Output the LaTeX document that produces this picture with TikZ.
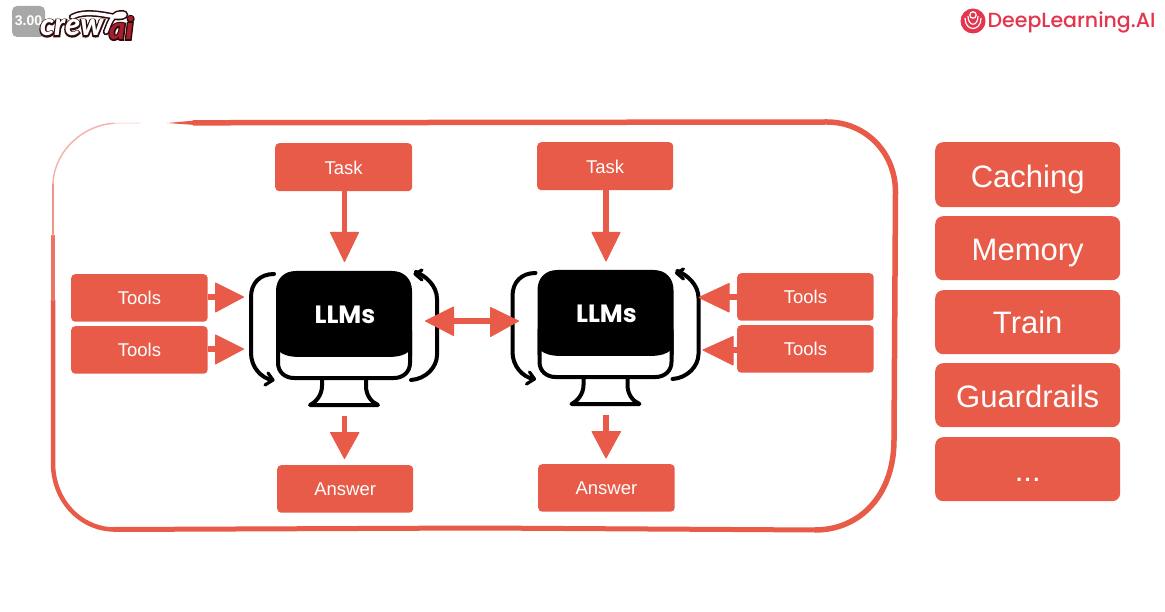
\documentclass[tikz,border=0pt]{standalone}
\usepackage{fontspec}
\setmainfont{Liberation Sans}
\newfontfamily\poppm{Poppins Medium}
\newfontfamily\poppb{Poppins Bold}
\newfontfamily\latoi{Lato Black Italic}
\newfontfamily\latoo[RawFeature={embolden=9}]{Lato Black Italic}
\definecolor{cor}{HTML}{E85B48}
\definecolor{dlai}{HTML}{E4354E}
\definecolor{crewd}{HTML}{2E0A0C}
\definecolor{crewr}{HTML}{A81E2D}
\tikzset{
 x=1pt,y=-1pt,
 smallbox/.style={fill=cor,rounded corners=4pt,text=white,font=\fontsize{18.5}{19}\selectfont,inner sep=0pt},
 bigbox/.style={fill=cor,rounded corners=8pt,text=white,font=\fontsize{31}{32}\selectfont,inner sep=0pt,minimum width=185pt},
 shaft/.style={draw=cor,line width=5.5pt},
 headf/.style={fill=cor,draw=cor,line width=1pt,line join=round},
 ink/.style={draw=black,line width=4pt,line cap=round,line join=round},
 tip/.style={draw=black,line width=3.2pt,line cap=round,line join=round},
}
\newcommand{\mkbox}[6]{\node[smallbox,minimum width=#4 pt-#2 pt,minimum height=#5 pt-#3 pt,anchor=north west] (#1) at (#2,#3) {\raisebox{-7pt}[0pt][0pt]{#6}};}
\newcommand{\monitor}[3]{%
 \begin{scope}[shift={(#1,#2)}]
  \draw[ink,fill=white] (46,107) -- (46,115) .. controls (46,124) and (40,131) .. (34,134) -- (102,134) .. controls (95,131) and (90,124) .. (90,115) -- (90,107);
  \draw[ink,fill=white] (2,60) -- (2,92) .. controls (2,101) and (9,107) .. (18,107) -- (118,107) .. controls (127,107) and (134,101) .. (134,92) -- (134,60);
  \fill[black] (0,20) .. controls (0,8) and (8,0) .. (20,0) -- (116,0) .. controls (128,0) and (136,8) .. (136,20) -- (136,85) -- (132,81) .. controls (130,83) and (124,86) .. (112,86) -- (24,86) .. controls (12,86) and (6,83) .. (4,81) -- (0,85) -- cycle;
  \node[text=white,font=\poppb\fontsize{25}{25}\selectfont,inner sep=0pt] (#3) at (69,44) {LLMs};
  \draw[ink] (-2,3) .. controls (-16,3) and (-25,12) .. (-25,26) -- (-25,82) .. controls (-25,96) and (-15,107) .. (-4,109);
  \draw[tip] (-11,114) -- (-3,109) -- (-8,102);
  \draw[ink] (135,109) .. controls (150,108) and (161,96) .. (161,84) -- (161,28) .. controls (161,15) and (150,5) .. (140,1);
  \draw[tip] (146,-1) -- (139,3) -- (146,9);
 \end{scope}}
\begin{document}
\begin{tikzpicture}
\useasboundingbox (0,0) rectangle (1165,612);
\fill[white] (0,0) rectangle (1165,612);
% outer frame
\fill[cor] (167,123) -- (195,120.5) -- (195,125) -- cycle;
\draw[cor,line width=5.5pt] (193,122.8) -- (827,122) .. controls (865,122) and (895.5,152) .. (895.5,192) -- (894,440) .. controls (894,495) and (860,530) .. (815,530);
\draw[cor,line width=5pt] (816,530) -- (480,528) -- (113,529.5);
\draw[cor,line width=4.5pt] (114,529.5) .. controls (80,529) and (53,500) .. (53,463) -- (53,300);
\draw[cor!85,line width=3.5pt] (53,301) -- (53,235);
\draw[cor!65,line width=2pt] (53,236) -- (53,183);
\draw[cor!45,line width=1.5pt] (53,184) .. controls (54,150) and (85,124) .. (115,123.3);
\draw[cor!20,line width=1pt] (114,123.3) -- (140,123);
% boxes
\mkbox{t1}{275}{143}{412}{191}{Task}
\mkbox{t2}{537}{142}{673}{190}{Task}
\mkbox{l1}{71}{274}{207.5}{321.5}{Tools}
\mkbox{l2}{71}{326}{207.5}{373.5}{Tools}
\mkbox{r1}{737}{273}{873.5}{320.5}{Tools}
\mkbox{r2}{737}{325}{873.5}{372.5}{Tools}
\mkbox{a1}{277}{465}{413}{512.5}{Answer}
\mkbox{a2}{538}{464}{674.5}{511.5}{Answer}
\node[bigbox,minimum height=65pt,anchor=north west] (b1) at (935,142) {\raisebox{-12.5pt}[0pt][0pt]{Caching}};
\node[bigbox,minimum height=64pt,anchor=north west] (b2) at (935,216) {\raisebox{-12pt}[0pt][0pt]{Memory}};
\node[bigbox,minimum height=64pt,anchor=north west] (b3) at (935,290) {\raisebox{-11.5pt}[0pt][0pt]{Train}};
\node[bigbox,minimum height=64pt,anchor=north west] (b4) at (935,363) {\raisebox{-12pt}[0pt][0pt]{Guardrails}};
\node[bigbox,minimum height=64pt,anchor=north west] (b5) at (935,437) {\raisebox{-12pt}[0pt][0pt]{...}};
% monitors
\monitor{276}{271}{m1}
\monitor{537.5}{270}{m2}
% block arrows
\coordinate (h1) at (344.5,232);
\draw[shaft] (t1.south -| h1) -- (h1);
\filldraw[headf] (330.5,232.5) -- (358.5,232.5) -- (344.5,261.5) -- cycle;
\coordinate (h2) at (606,232);
\draw[shaft] (t2.south -| h2) -- (h2);
\filldraw[headf] (592,232.5) -- (620,232.5) -- (606,261) -- cycle;
\coordinate (h3) at (217,297);
\draw[shaft] (l1.east |- h3) -- (h3);
\filldraw[headf] (215.5,283) -- (243.5,297) -- (215.5,312) -- cycle;
\coordinate (h4) at (217,349);
\draw[shaft] (l2.east |- h4) -- (h4);
\filldraw[headf] (215.5,335) -- (243.5,349) -- (215.5,364) -- cycle;
\coordinate (h5) at (729,297);
\draw[shaft] (r1.west |- h5) -- (h5);
\filldraw[headf] (729,283.5) -- (699,297.5) -- (729,312) -- cycle;
\coordinate (h6) at (733,350);
\draw[shaft] (r2.west |- h6) -- (h6);
\filldraw[headf] (733,336.5) -- (703,350) -- (733,365) -- cycle;
\coordinate (h7) at (344.5,416);
\coordinate (h7e) at (344.5,433);
\draw[shaft] (h7) -- (h7e);
\filldraw[headf] (330.5,432.5) -- (359,432.5) -- (344.5,458.5) -- cycle;
\coordinate (h8) at (606,415);
\coordinate (h8e) at (606,432);
\draw[shaft] (h8) -- (h8e);
\filldraw[headf] (592,431.5) -- (620.5,431.5) -- (606,458) -- cycle;
\coordinate (d1) at (453,321);
\coordinate (d2) at (491,321);
\draw[shaft] (d1) -- (d2);
\filldraw[headf] (453.5,307) -- (425.5,321) -- (453.5,335.5) -- cycle;
\filldraw[headf] (490.5,307.5) -- (518.5,321) -- (490.5,336.5) -- cycle;
% crewai logo
\fill[black!40,rounded corners=5pt,fill opacity=.85] (12,6) rectangle (45,37);
\draw[crewd,line width=6.5pt,line cap=round] (72,17) .. controls (85,10) and (105,15) .. (116,17) .. controls (128,18) and (127,11) .. (117,14) .. controls (110,18) and (108,28) .. (106,32);
\node[text=crewd,font=\latoo\fontsize{31}{31}\selectfont,inner sep=0pt,anchor=west] (crewo) at (40,28) {crew};
\node[text=crewd,font=\latoo\fontsize{31}{31}\selectfont,inner sep=0pt,anchor=west] (aio) at (109,28) {ai};
\draw[white,line width=3.4pt,line cap=round] (72,17) .. controls (85,10) and (105,15) .. (116,17) .. controls (128,18) and (127,11) .. (117,14) .. controls (110,18) and (108,28) .. (106,32);
\node[text=white,font=\latoi\fontsize{31}{31}\selectfont,inner sep=0pt,anchor=west] (crew) at (40,28) {crew};
\node[text=crewr,font=\latoi\fontsize{31}{31}\selectfont,inner sep=0pt,anchor=west] (ai) at (109,28) {ai};
\node[text=white,font=\bfseries\fontsize{14}{14}\selectfont,inner sep=0pt] (speed) at (28.5,21) {3.00};
% DeepLearning.AI
\fill[dlai] (973,21) circle (12.5);
\draw[white,line width=1.2pt] (965,18) .. controls (965,32) and (981,32) .. (981,18);
\draw[white,line width=1.2pt] (968,16) .. controls (968,27) and (978,27) .. (978,16);
\draw[white,line width=1.2pt] (973,15) circle (3.2);
\node[text=dlai,font=\poppm\fontsize{20.5}{22}\selectfont,inner sep=0pt,anchor=west] (dl) at (987.5,22) {DeepLearning.AI};
\end{tikzpicture}
\end{document}
